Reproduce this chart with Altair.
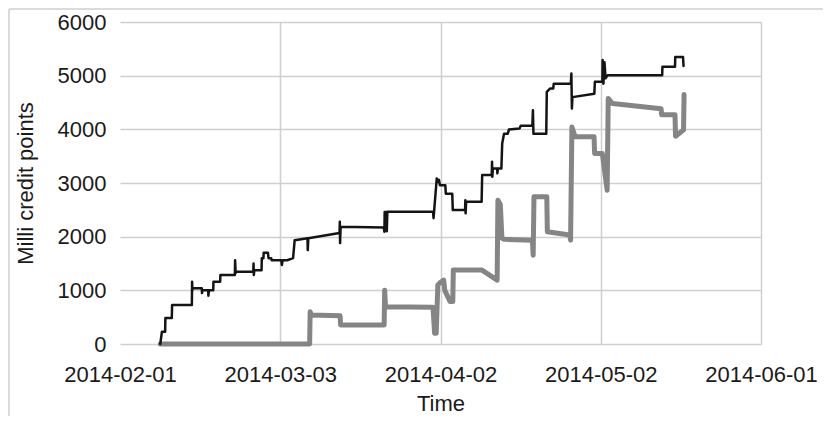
import altair as alt
import pandas as pd

# ---- data (x = days after 2014-02-01, y = milli credit points) ----
black_days = [7.54, 7.85, 8.45, 8.5, 9.7, 9.75, 13.45, 13.5, 13.55, 13.6, 15.3, 15.35, 15.45,
              16.5, 16.55, 16.65, 17.45, 17.5, 18.75, 18.8, 21.5, 21.55, 21.65, 21.75, 24.95,
              25.0, 25.05, 25.15, 26.5, 26.55, 26.85, 26.9, 27.7, 27.8, 28.3, 28.4, 30.2, 30.3,
              30.45, 31.3, 32.4, 32.7, 35.1, 35.15, 35.25, 41.1, 41.15, 41.2, 41.3, 49.4, 49.5,
              49.55, 49.9, 49.95, 50.05, 58.6, 58.7, 59.3, 59.5, 59.7, 59.9, 60.9, 61.0, 62.2,
              62.3, 64.6, 64.65, 64.7, 64.8, 67.7, 67.8, 69.6, 69.65, 69.7, 69.8, 70.6, 70.65,
              70.75, 71.4, 71.55, 71.9, 72.6, 72.8, 74.8, 75.0, 77.2, 77.3, 77.4, 79.8, 79.9,
              80.5, 81.1, 81.2, 84.4, 84.5, 84.6, 84.7, 88.8, 88.9, 90.3, 90.35, 90.5, 90.7,
              90.9, 91.3, 101.5, 101.55, 103.9, 103.95, 105.4, 105.5]
black_vals = [0, 230, 230, 485, 485, 725, 725, 1160, 1000, 1040, 1040, 950, 1000,
              1000, 900, 1000, 1000, 1160, 1160, 1285, 1285, 1560, 1320, 1345, 1345,
              1500, 1285, 1375, 1375, 1600, 1600, 1700, 1700, 1600, 1600, 1560, 1560, 1470,
              1560, 1560, 1600, 1935, 1970, 1750, 1970, 2070, 2280, 1880, 2185, 2170, 2090,
              2460, 2460, 2100, 2465, 2465, 2345, 3085, 3020, 3060, 2960, 2960, 2800, 2800,
              2495, 2495, 2680, 2435, 2650, 2650, 3147, 3147, 3395, 3115, 3270, 3270, 3180,
              3270, 3270, 3735, 3920, 3920, 3995, 4015, 4065, 4065, 4355, 3920, 3920, 4700,
              4760, 4760, 4850, 4850, 5040, 4390, 4600, 4665, 4885, 4885, 5290, 4850, 5250,
              4950, 5010, 5010, 5165, 5165, 5350, 5350, 5180]

gray_days = [7.54, 35.5, 35.6, 35.8, 41.2, 41.3, 49.45, 49.55, 49.7, 58.6, 58.9, 59.2, 59.5,
             60.0, 60.6, 60.8, 61.8, 62.3, 62.4, 67.7, 70.6, 70.75, 71.2, 71.5, 72.0, 77.2,
             77.35, 77.5, 79.9, 80.0, 84.2, 84.35, 84.6, 85.2, 88.75, 88.85, 90.3, 91.2, 91.4,
             92.2, 101.3, 101.4, 103.9, 104.0, 105.5, 105.6]
gray_vals = [0, 0, 600, 540, 525, 355, 355, 1000, 695, 685, 200, 200, 1100,
             1150, 1190, 1000, 790, 790, 1380, 1380, 1190, 2680, 2600, 1970, 1950, 1935,
             1655, 2745, 2745, 2090, 2030, 1935, 4045, 3860, 3860, 3550, 3550, 2865, 4575,
             4480, 4385, 4270, 4270, 3870, 3990, 4650]

x_ticks = ["2014-02-01", "2014-03-03", "2014-04-02", "2014-05-02", "2014-06-01"]
y_ticks = [0, 1000, 2000, 3000, 4000, 5000, 6000]

BASE = pd.Timestamp("2014-02-01")


def frame(days, vals, name):
    t = [(BASE + pd.to_timedelta(d, unit="D")).strftime("%Y-%m-%dT%H:%M:%S") for d in days]
    return pd.DataFrame({"time": t, "value": vals, "series": name, "order": range(len(days))})


black_df = frame(black_days, black_vals, "black")
gray_df = frame(gray_days, gray_vals, "gray")


def dt(s):
    y, m, d = (int(p) for p in s.split("-"))
    return alt.DateTime(year=y, month=m, date=d)


FONT = "Liberation Sans"
GRID = "#cfcfcf"

x_enc = alt.X(
    "time:T",
    scale=alt.Scale(domain=[dt(x_ticks[0]), dt(x_ticks[-1])]),
    axis=alt.Axis(
        values=[dt(s) for s in x_ticks],
        format="%Y-%m-%d",
        title="Time",
        domain=False,
        ticks=False,
        labelFlush=False,
        labelOverlap=False,
        labelPadding=20,
        titlePadding=8,
        gridColor={"condition": {"test": "datum.value < datetime(2014, 1, 2)", "value": "transparent"},
                   "value": GRID},
        gridWidth=1.5,
    ),
)
y_enc = alt.Y(
    "value:Q",
    scale=alt.Scale(domain=[0, 6000]),
    axis=alt.Axis(
        values=y_ticks,
        format="d",
        title="Milli credit points",
        domain=False,
        ticks=False,
        labelFlush=False,
        labelPadding=14,
        titlePadding=20,
        gridColor=GRID,
        gridWidth=1.5,
    ),
)

gray_line = alt.Chart(gray_df).mark_line(
    color="#858585", strokeWidth=5, strokeJoin="round", strokeCap="round"
).encode(x=x_enc, y=y_enc, order="order:Q")

black_line = alt.Chart(black_df).mark_line(
    color="#141414", strokeWidth=2.5, strokeJoin="round", strokeCap="round"
).encode(x="time:T", y="value:Q", order="order:Q")

deco = pd.DataFrame({"k": [0]})
frame_left = alt.Chart(deco).mark_rule(color=GRID, strokeWidth=1.5).encode(
    x=alt.value(-111), y=alt.value(-13), y2=alt.value(420)
)
frame_top = alt.Chart(deco).mark_rule(color=GRID, strokeWidth=1.5).encode(
    x=alt.value(-111), x2=alt.value(720), y=alt.value(-13)
)

chart = (
    alt.layer(gray_line, black_line, frame_left, frame_top)
    .properties(
        width=641,
        height=322,
        autosize=alt.AutoSizeParams(type="none"),
        padding={"left": 112, "top": 14, "right": 62, "bottom": 72},
    )
    .configure_view(stroke=None)
    .configure_axis(
        labelFont=FONT,
        titleFont=FONT,
        labelFontSize=22,
        titleFontSize=22,
        titleFontWeight="normal",
        labelColor="#1a1a1a",
        titleColor="#1a1a1a",
    )
)

chart.save("out.html", embed_options={"renderer": "svg", "actions": False})
